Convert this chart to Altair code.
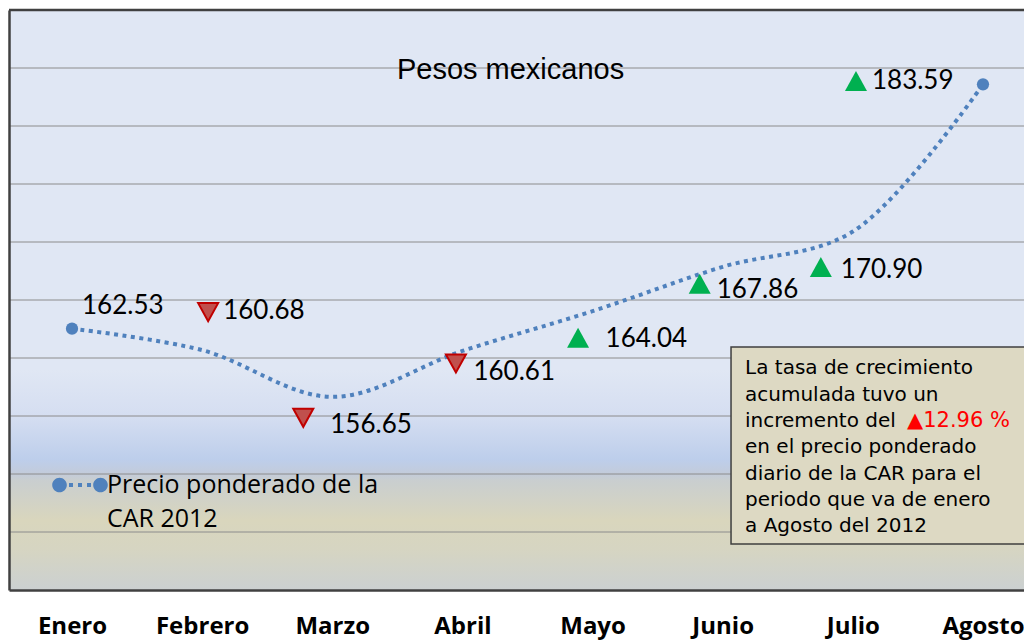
import altair as alt
import pandas as pd

# ---------------- data ----------------
months = ["Enero", "Febrero", "Marzo", "Abril", "Mayo", "Junio", "Julio", "Agosto"]
prices = [162.53, 160.68, 156.65, 160.61, 164.04, 167.86, 170.90, 183.59]
change = ["", "baja", "baja", "baja", "sube", "sube", "sube", "sube"]
legend_lines = ["Precio ponderado de la", "CAR 2012"]
series_name = " ".join(legend_lines)
y_ticks = [145, 150, 155, 160, 165, 170, 175, 180, 185]
title_text = "Pesos mexicanos"
note_lines = [
    "La tasa de crecimiento",
    "acumulada tuvo un",
    "incremento del",
    "en el precio ponderado",
    "diario de la CAR para el",
    "periodo que va de enero",
    "a Agosto del 2012",
]
note_highlight = "\u25b212.96 %"

# ---------------- layout (styles / pixel offsets, not data) ----------------
X_LO, X_HI = -0.4841, 7.3152
Y_LO, Y_HI = 140, 190
tri_dx = [0, 6, -29, -6.5, -14.5, -23, -32, -127]
tri_dy = [0, -38, 21, 12.6, 26.6, 17, 35.4, -3.4]
lab_dx = [10, 21, -2, 11, 13, -6, -12, -111]
lab_dy = [-23, -39.6, 28, 21, 28, 23, 38, -3]
TITLE_AT = (3.37, 185)
BOX = (5.064, 7.338, 160.95, 143.97)  # x0, x1, ytop, ybottom (data units)
LEGEND_AT = (0.0615, 149.05)

BLUE = "#4F81BD"

df = pd.DataFrame({
    "idx": list(range(len(months))),
    "mes": months,
    "precio": prices,
    "cambio": change,
    "serie": series_name,
    "etiqueta": [f"{p:.2f}" for p in prices],
})
one = pd.DataFrame({"k": [0]})
grid_df = pd.DataFrame({"g": y_ticks})

xscale = alt.Scale(domain=[X_LO, X_HI], nice=False, zero=False)
yscale = alt.Scale(domain=[Y_LO, Y_HI], nice=False, zero=False)

label_expr = "[" + ",".join(f"'{m}'" for m in months) + "][datum.value]"
xaxis = alt.Axis(
    values=list(range(len(months))), labelExpr=label_expr, grid=False, ticks=False,
    tickSize=0, domainColor="#404040", domainWidth=2.5, labelFont="Open Sans",
    labelFontWeight="bold", labelFontSize=24, labelColor="#000000", labelPadding=24,
    zindex=1, title=None,
)
yaxis = alt.Axis(
    values=y_ticks, labels=False, ticks=False, tickSize=0, grid=False,
    domainColor="#404040", domainWidth=2.5, zindex=1, title=None,
)

X = alt.X("idx:Q", scale=xscale, axis=xaxis)
Y = alt.Y("precio:Q", scale=yscale, axis=yaxis)

gradient = alt.LinearGradient(
    gradient="linear", x1=0, x2=0, y1=0, y2=1,
    stops=[
        alt.GradientStop(color="#E0E7F4", offset=0),
        alt.GradientStop(color="#E0E7F4", offset=0.62),
        alt.GradientStop(color="#D5DEF1", offset=0.70),
        alt.GradientStop(color="#BDCEEB", offset=0.775),
        alt.GradientStop(color="#C3CBDA", offset=0.80),
        alt.GradientStop(color="#C9CED0", offset=0.81),
        alt.GradientStop(color="#D9D6BD", offset=0.88),
        alt.GradientStop(color="#D6D5C2", offset=0.93),
        alt.GradientStop(color="#CBD0D1", offset=1),
    ],
)

bg = alt.Chart(one).mark_rect(fill=gradient).encode(
    x=alt.datum(X_LO), x2=alt.datum(X_HI), y=alt.datum(Y_HI), y2=alt.datum(Y_LO)
)

grid = alt.Chart(grid_df).mark_rule(color="#8C8C8C", strokeWidth=1).encode(
    y=alt.Y("g:Q", scale=yscale, axis=yaxis)
)

line = alt.Chart(df).mark_line(
    interpolate="catmull-rom", color=BLUE, strokeWidth=4, strokeDash=[4, 4.5]
).encode(X, Y)

ends = alt.Chart(df).transform_filter(
    "datum.idx == 0 || datum.idx == 7"
).mark_circle(size=150, opacity=1, color=BLUE).encode(X, Y)

layers = [bg, grid, line, ends]


# triangle shapes drawn in pixel units (symbol size 4 -> scale 1), shifted by the offset
def tri_path(dx, dy, down, w, hh):
    if down:
        return f"M{dx - w},{dy - hh} L{dx + w},{dy - hh} L{dx},{dy + hh} Z"
    return f"M{dx - w},{dy + hh} L{dx + w},{dy + hh} L{dx},{dy - hh} Z"


for i in range(len(months)):
    if change[i] == "baja":
        m = alt.Chart(df).transform_filter(f"datum.idx == {i}").mark_point(
            shape=tri_path(tri_dx[i], tri_dy[i], True, 10, 9), size=4, filled=True,
            fill="#C0504D", stroke="#C00000", strokeWidth=2, opacity=1,
        ).encode(X, Y)
        layers.append(m)
    elif change[i] == "sube":
        m = alt.Chart(df).transform_filter(f"datum.idx == {i}").mark_point(
            shape=tri_path(tri_dx[i], tri_dy[i], False, 11, 10), size=4, filled=True,
            fill="#00B050", strokeWidth=0, opacity=1,
        ).encode(X, Y)
        layers.append(m)

for i in range(len(months)):
    t = alt.Chart(df).transform_filter(f"datum.idx == {i}").mark_text(
        align="left", baseline="middle", font="Lato", fontSize=26, color="#000000",
        dx=lab_dx[i], dy=lab_dy[i],
    ).encode(X, Y, text="etiqueta:N")
    layers.append(t)

title = alt.Chart(one).mark_text(
    font="Liberation Sans", fontSize=29, color="#000000", align="center",
    baseline="middle", dy=2,
).encode(x=alt.datum(TITLE_AT[0]), y=alt.datum(TITLE_AT[1]), text=alt.value(title_text))

box = alt.Chart(one).mark_rect(fill="#DDD9C3", stroke="#3F3F3F", strokeWidth=1.5).encode(
    x=alt.datum(BOX[0]), x2=alt.datum(BOX[1]), y=alt.datum(BOX[2]), y2=alt.datum(BOX[3])
)
box_text = alt.Chart(one).mark_text(
    align="left", baseline="top", font="DejaVu Sans", fontSize=20, lineHeight=26.3,
    color="#000000", dx=14, dy=11.5,
).encode(x=alt.datum(BOX[0]), y=alt.datum(BOX[2]), text=alt.value(note_lines))
box_red = alt.Chart(one).mark_text(
    align="left", baseline="top", font="DejaVu Sans", fontSize=21,
    color="#FF0000", dx=176, dy=10.5 + 2 * 26.3,
).encode(x=alt.datum(BOX[0]), y=alt.datum(BOX[2]), text=alt.value(note_highlight))

# legend symbol: two dots joined by a dotted line
cx, r, h = 0.737, 0.263, 0.072


def circ(c):
    return f"M{c - r},0 A{r},{r} 0 1,0 {c + r},0 A{r},{r} 0 1,0 {c - r},0 Z "


def sq(c):
    return f"M{c - h},{-h} L{c + h},{-h} L{c + h},{h} L{c - h},{h} Z "


legend_path = circ(-cx) + circ(cx) + sq(-0.324) + sq(0.0) + sq(0.324)

leg_sym = alt.Chart(one).mark_point(
    shape=legend_path, size=3091, filled=True, fill=BLUE, strokeWidth=0, opacity=1
).encode(x=alt.datum(LEGEND_AT[0]), y=alt.datum(LEGEND_AT[1]))
leg_txt = alt.Chart(one).mark_text(
    align="left", baseline="middle", font="Open Sans", fontSize=25, lineHeight=34,
    color="#000000", dx=27,
).encode(x=alt.datum(LEGEND_AT[0]), y=alt.datum(LEGEND_AT[1]), text=alt.value(legend_lines))

top_border = alt.Chart(one).mark_rule(color="#404040", strokeWidth=2.5).encode(
    y=alt.datum(Y_HI)
)

layers += [title, box, box_text, box_red, leg_sym, leg_txt, top_border]

chart = alt.layer(*layers).properties(
    width=1015, height=580,
    autosize=alt.AutoSizeParams(type="none"),
    padding={"left": 1, "top": 2, "right": 0, "bottom": 50},
).configure_view(stroke="transparent")

chart.save("out.html", embed_options={"renderer": "svg", "actions": False})
